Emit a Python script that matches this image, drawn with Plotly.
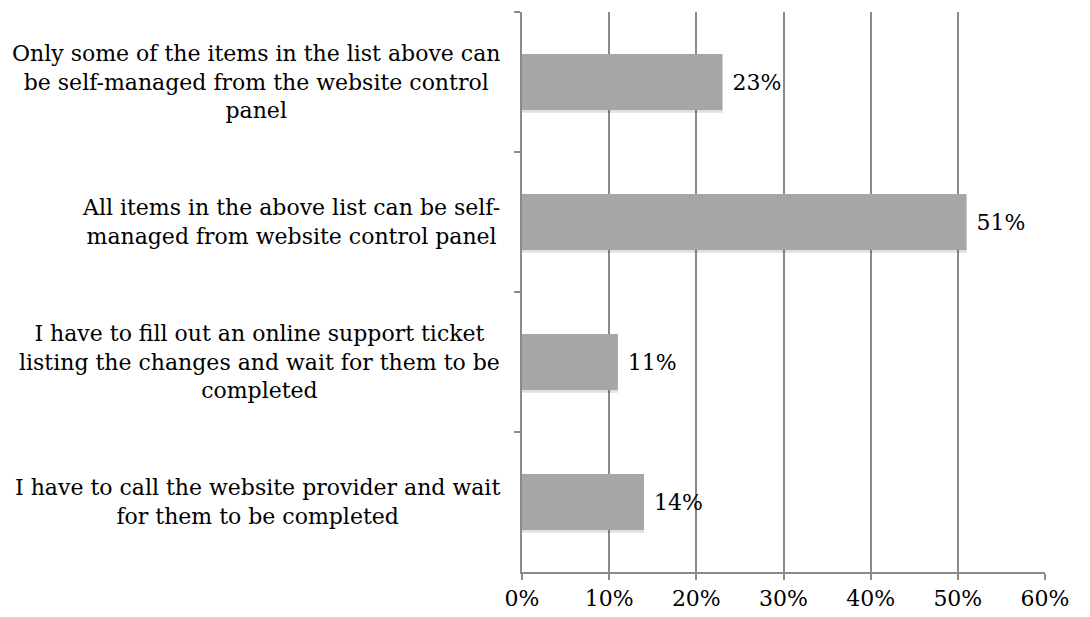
import plotly.graph_objects as go

categories = [
    "Only some of the items in the list above can<br>be self-managed from the website control<br>panel",
    "All items in the above list can be self-<br>managed from website control panel",
    "I have to fill out an online support ticket<br>listing the changes and wait for them to be<br>completed",
    "I have to call the website provider and wait<br>for them to be completed",
]
values = [23, 51, 11, 14]
tick_vals = [0, 10, 20, 30, 40, 50, 60]
tick_text = ["0%", "10%", "20%", "30%", "40%", "50%", "60%"]

FONT = "DejaVu Serif"
FS = 22
ycats = [f"c{i}" for i in range(len(categories))]

fig = go.Figure()
# subtle shadow
fig.add_trace(go.Bar(
    x=values, y=ycats, orientation="h", width=0.4,
    marker=dict(color="rgba(0,0,0,0.12)", line=dict(width=0)),
    offset=-0.2 + 0.02, hoverinfo="skip", showlegend=False,
))
fig.add_trace(go.Bar(
    x=values, y=ycats, orientation="h", width=0.4, offset=-0.2,
    marker=dict(color="#a6a6a6", line=dict(width=0)),
    text=[f"{v}%" for v in values], textposition="outside",
    texttemplate=" %{text}",
    textfont=dict(family=FONT, size=FS, color="#000000"),
    cliponaxis=False, showlegend=False,
))

for c, label in zip(ycats, categories):
    fig.add_annotation(
        x=0, xref="paper", y=c, yref="y", text=label, showarrow=False,
        xanchor="right", yanchor="middle", align="center", xshift=-20,
        font=dict(family=FONT, size=FS, color="#000000"),
    )

fig.update_layout(
    width=1090, height=617,
    margin=dict(l=522, r=45, t=12, b=45),
    paper_bgcolor="white", plot_bgcolor="white",
    barmode="overlay", bargap=0.6,
    font=dict(family=FONT, size=FS, color="#000000"),
    xaxis=dict(
        range=[0, 60], tickvals=tick_vals, ticktext=tick_text,
        showgrid=True, gridcolor="#8a8a8a", gridwidth=1.5,
        showline=True, linecolor="#8a8a8a", linewidth=1.5,
        ticks="outside", ticklen=6, tickcolor="#8a8a8a", tickwidth=1.5,
        zeroline=False, tickfont=dict(family=FONT, size=FS), automargin=False,
    ),
    yaxis=dict(
        type="category", categoryorder="array", categoryarray=ycats,
        autorange="reversed", tickson="boundaries",
        showticklabels=False, showgrid=False, automargin=False,
        showline=True, linecolor="#8a8a8a", linewidth=1.5,
        ticks="outside", ticklen=6, tickcolor="#8a8a8a", tickwidth=1.5,
    ),
)

fig.write_html("out.html")
